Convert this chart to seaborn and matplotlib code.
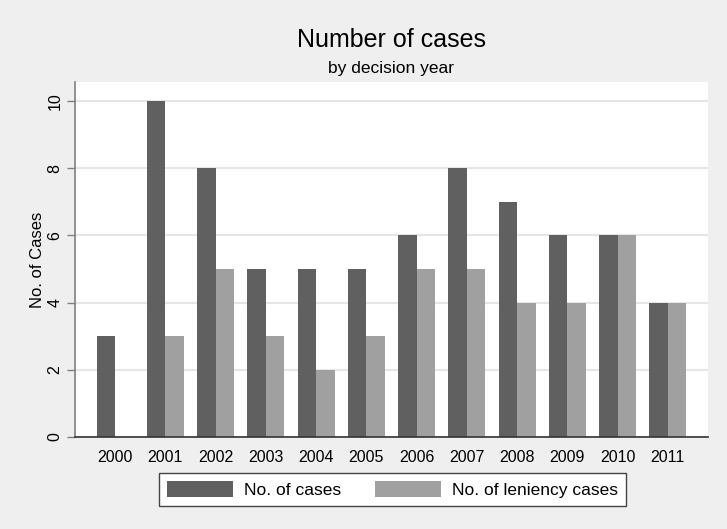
import pandas as pd
import matplotlib
matplotlib.use('Agg')
import matplotlib.pyplot as plt
import seaborn as sns

# 数据
years = ['2000', '2001', '2002', '2003', '2004', '2005',
         '2006', '2007', '2008', '2009', '2010', '2011']
cases = [3, 10, 8, 5, 5, 5, 6, 8, 7, 6, 6, 4]
leniency = [0, 3, 5, 3, 2, 3, 5, 5, 4, 4, 6, 4]
series_names = ['No. of cases', 'No. of leniency cases']

df = pd.DataFrame({
    'year': years * 2,
    'value': cases + leniency,
    'series': [series_names[0]] * len(years) + [series_names[1]] * len(years),
})

sns.set_style('white')
plt.rcParams['font.family'] = ['Liberation Sans', 'DejaVu Sans']
plt.rcParams['text.color'] = 'black'
plt.rcParams['xtick.color'] = 'black'
plt.rcParams['ytick.color'] = 'black'
plt.rcParams['axes.labelcolor'] = 'black'

bg = '#efefef'
fig = plt.figure(figsize=(7.27, 5.29), dpi=100, facecolor=bg)
ax = fig.add_axes([75 / 727, 1 - 437 / 529, 633 / 727, 355 / 529])
ax.set_facecolor('white')

sns.barplot(data=df, x='year', y='value', hue='series', order=years,
            hue_order=series_names, palette=['#606060', '#a0a0a0'],
            width=0.74, saturation=1, linewidth=0, ax=ax, legend=True)

ax.set_xlim(-0.8, 11.8)
ax.set_ylim(0, 10.56)
ax.set_yticks(range(0, 11, 2))
ax.yaxis.grid(True, color='#e6e6e6', linewidth=1.5)
ax.set_axisbelow(True)

for s in ['top', 'right']:
    ax.spines[s].set_visible(False)
ax.spines['left'].set_color('#808080')
ax.spines['left'].set_linewidth(1.2)
ax.spines['bottom'].set_color('#333333')
ax.spines['bottom'].set_linewidth(1.2)

ax.tick_params(axis='y', left=True, length=6, width=1, color='#808080',
               labelsize=11.5, pad=3)
ax.tick_params(axis='x', bottom=False, labelsize=11.5, pad=6)
for lab in ax.get_yticklabels():
    lab.set_rotation(90)
    lab.set_va('center')

ax.set_xlabel('')
ax.set_ylabel('No. of Cases', fontsize=12, labelpad=2)

fig.text(391.5 / 727, 1 - 40 / 529, 'Number of cases', ha='center', va='center',
         fontsize=18)
fig.text(391.5 / 727, 1 - 68 / 529, 'by decision year', ha='center', va='center',
         fontsize=12.5)

handles, labels = ax.get_legend_handles_labels()
ax.get_legend().remove()
leg = fig.legend(handles, labels, loc='center', ncol=2,
                 bbox_to_anchor=(392.5 / 727, 1 - 489.5 / 529),
                 fontsize=12.5, frameon=True, fancybox=False,
                 handlelength=3.8, handleheight=1.0, handletextpad=0.65,
                 columnspacing=1.9, borderpad=0.45, borderaxespad=0)
leg.get_frame().set_edgecolor('#444444')
leg.get_frame().set_linewidth(1)
leg.get_frame().set_alpha(1)

fig.savefig('out.png', dpi=100, facecolor=bg)
